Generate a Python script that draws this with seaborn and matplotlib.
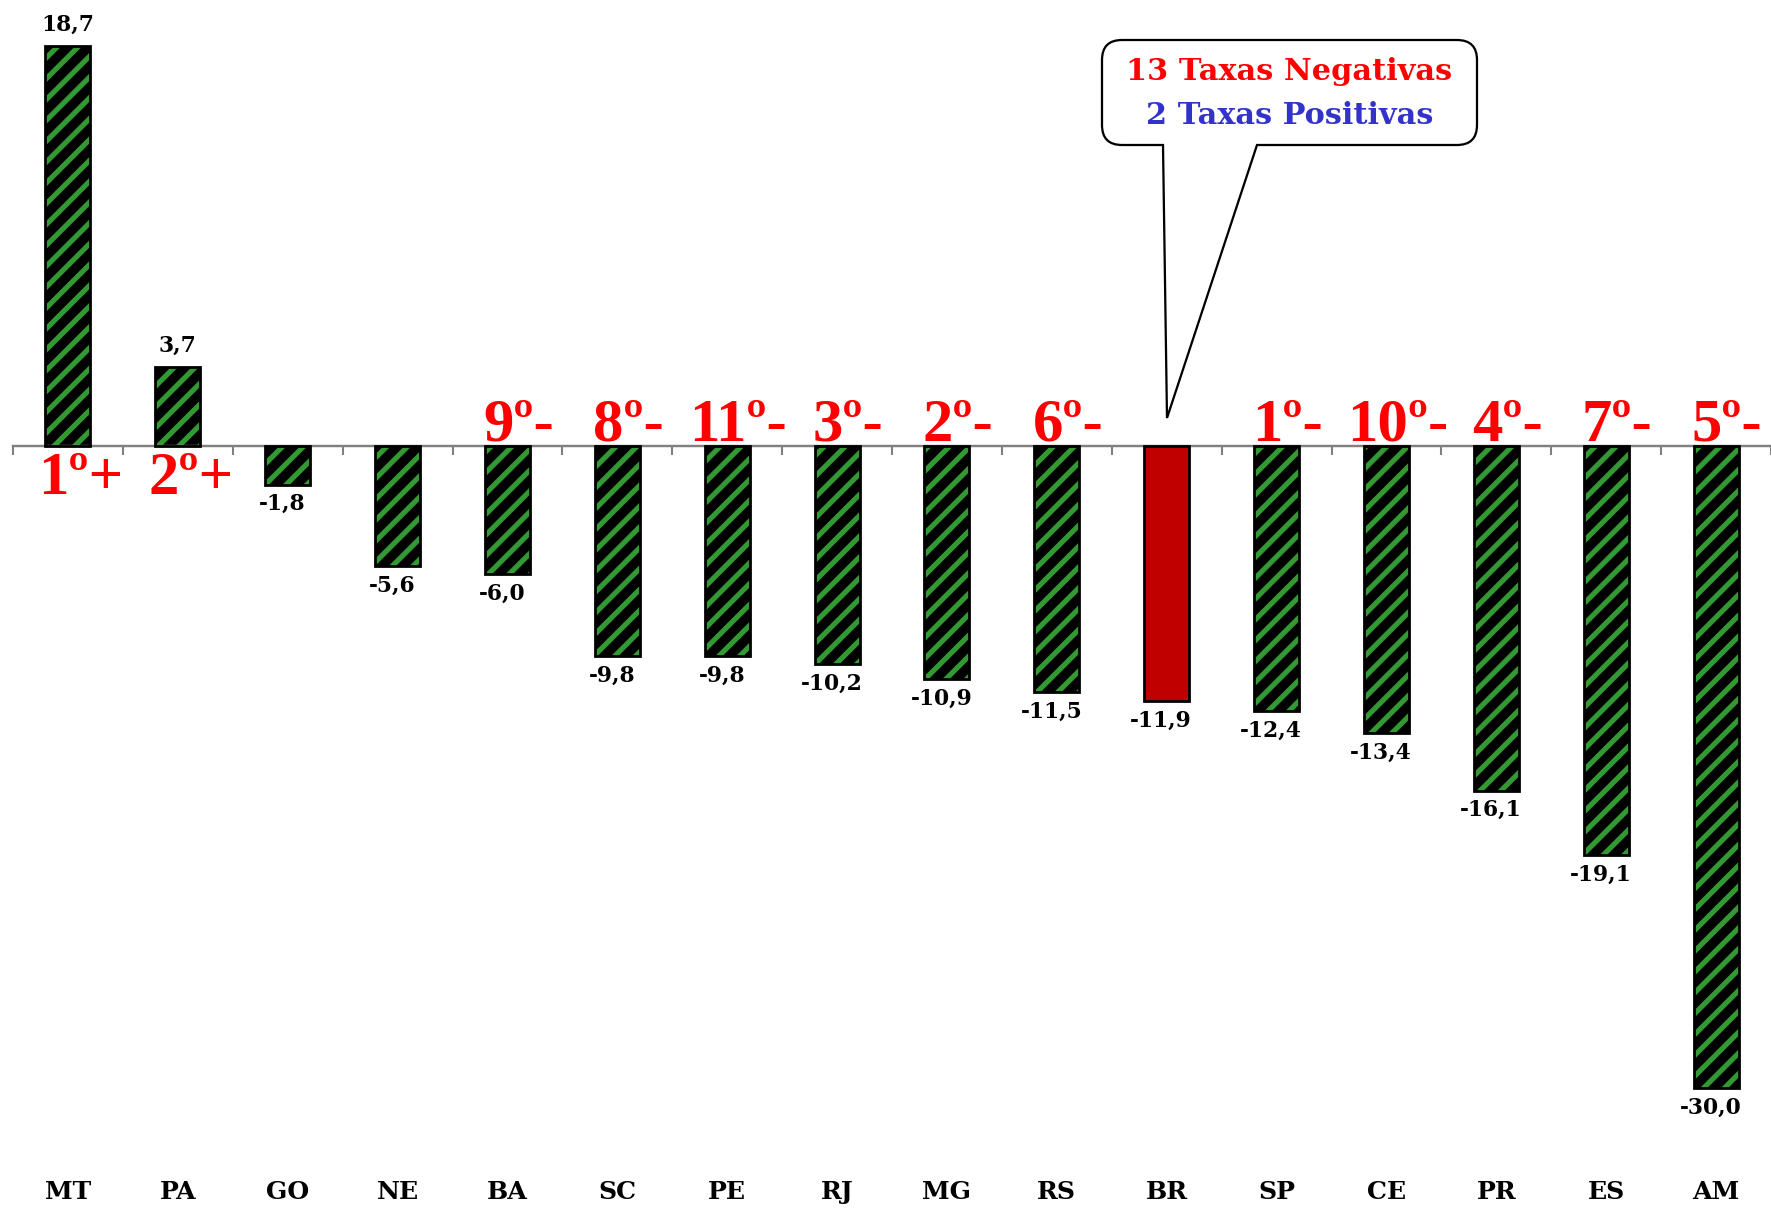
import numpy as np
import pandas as pd
import matplotlib
matplotlib.use("Agg")
import matplotlib.pyplot as plt
import matplotlib.transforms as mtransforms
from matplotlib.path import Path
from matplotlib.patches import PathPatch, Rectangle
import seaborn as sns

# data
states = ["MT", "PA", "GO", "NE", "BA", "SC", "PE", "RJ", "MG", "RS",
          "BR", "SP", "CE", "PR", "ES", "AM"]
values = [18.7, 3.7, -1.8, -5.6, -6.0, -9.8, -9.8, -10.2, -10.9, -11.5,
          -11.9, -12.4, -13.4, -16.1, -19.1, -30.0]
ranks = ["1º+", "2º+", "", "", "9º-", "8º-", "11º-", "3º-", "2º-", "6º-",
         "", "1º-", "10º-", "4º-", "7º-", "5º-"]
callout_lines = ["13 Taxas Negativas", "2 Taxas Positivas"]
highlight = "BR"

GREEN = "#339933"
RED_BAR = "#C00000"

sns.set_theme(style="white")
plt.rcParams["font.family"] = ["DejaVu Serif"]
plt.rcParams["text.color"] = "black"
plt.rcParams["hatch.linewidth"] = 3.0

W, H, DPI = 1771, 1210, 125
fig = plt.figure(figsize=(W / DPI, H / DPI), dpi=DPI)
ax = fig.add_axes([13 / W, 0, 1 - 13 / W, 1])

df = pd.DataFrame({"estado": states, "taxa": values})
sns.barplot(data=df, x="estado", y="taxa", color="black", width=0.41,
            saturation=1, edgecolor=GREEN, linewidth=0, ax=ax)

for p, st in zip(ax.patches, states):
    if st == highlight:
        p.set_facecolor(RED_BAR)
        p.set_hatch(None)
    else:
        p.set_hatch("//")
    ax.add_patch(Rectangle(p.get_xy(), p.get_width(), p.get_height(),
                           fill=False, ec="black", lw=1.6, zorder=3))

ax.set_xlim(-0.5, 15.5)
ax.set_ylim(-764 / 21.4, 446 / 21.4)

# axis line at zero with small ticks between categories
for s in ["top", "right", "left"]:
    ax.spines[s].set_visible(False)
ax.spines["bottom"].set_position(("data", 0))
ax.spines["bottom"].set_color("#808080")
ax.spines["bottom"].set_linewidth(1.4)
ax.set_yticks([])
ax.set_xticks(np.arange(len(states)))
ax.set_xticklabels([])
ax.tick_params(axis="x", which="major", length=0, bottom=True)
ax.set_xticks(np.arange(-0.5, len(states), 1), minor=True)
ax.tick_params(axis="x", which="minor", length=5, width=1.2, color="#808080",
               direction="out", bottom=True)
ax.set_xlabel("")
ax.set_ylabel("")

# category labels at the bottom
for i, st in enumerate(states):
    ax.text(i, 0.015, st, transform=ax.get_xaxis_transform(), ha="center",
            va="center", fontsize=14.5, fontweight="bold", color="black")

# value labels
for i, v in enumerate(values):
    lab = f"{v:.1f}".replace(".", ",")
    if v >= 0:
        ax.annotate(lab, (i, v), xytext=(0, 6), textcoords="offset points",
                    ha="center", va="bottom", fontsize=12.5, fontweight="bold")
    else:
        ax.annotate(lab, (i - 0.05, v), xytext=(0, -5), textcoords="offset points",
                    ha="center", va="top", fontsize=12.5, fontweight="bold")

# ranking labels
for i, (r, v) in enumerate(zip(ranks, values)):
    if not r:
        continue
    if v >= 0:
        ax.annotate(r, (i + 0.12, 0), xytext=(0, -3), textcoords="offset points",
                    ha="center", va="top", fontsize=35, fontweight="bold",
                    color="red", family="Liberation Serif")
    else:
        ax.annotate(r, (i + 0.1, 0), xytext=(0, 3), textcoords="offset points",
                    ha="center", va="baseline", fontsize=35, fontweight="bold",
                    color="red", family="Liberation Serif")

# speech-bubble callout (pixel coords, y down)
px = mtransforms.Affine2D().scale(1 / W, -1 / H).translate(0, 1) + fig.transFigure
L, R, T, B, r = 1102, 1477, 40, 145, 20
a, b = 1163, 1257
tip = (1167, 418)
verts = [(L + r, T), (R - r, T), (R, T), (R, T + r), (R, B - r), (R, B), (R - r, B),
         (b, B), tip, (a, B), (L + r, B), (L, B), (L, B - r), (L, T + r), (L, T),
         (L + r, T), (L + r, T)]
codes = [Path.MOVETO, Path.LINETO, Path.CURVE3, Path.CURVE3, Path.LINETO,
         Path.CURVE3, Path.CURVE3, Path.LINETO, Path.LINETO, Path.LINETO,
         Path.LINETO, Path.CURVE3, Path.CURVE3, Path.LINETO, Path.CURVE3,
         Path.CURVE3, Path.CLOSEPOLY]
bubble = PathPatch(Path(verts, codes), transform=px, facecolor="white",
                   edgecolor="black", lw=1.3, zorder=5)
fig.add_artist(bubble)
fig.text((L + R) / 2 / W, 1 - 71 / H, callout_lines[0], ha="center", va="center",
         fontsize=17.5, fontweight="bold", color="red", zorder=6)
fig.text((L + R) / 2 / W, 1 - 115 / H, callout_lines[1], ha="center", va="center",
         fontsize=17.5, fontweight="bold", color="#3333CC", zorder=6)

fig.savefig("out.png", dpi=DPI)
